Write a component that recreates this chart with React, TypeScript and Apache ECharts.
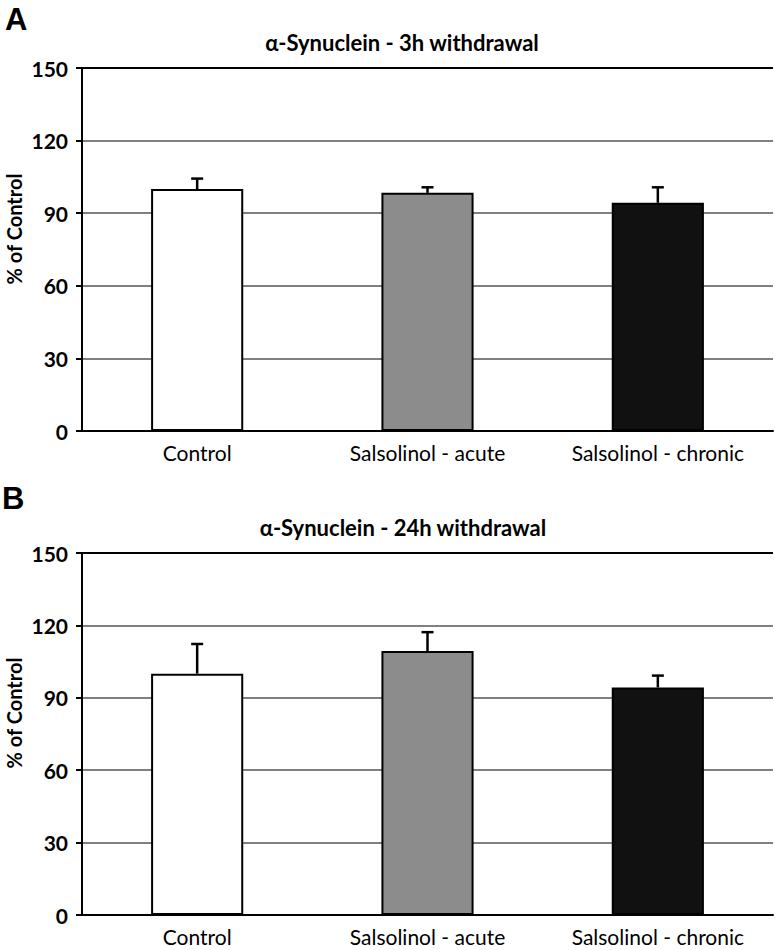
import React, { useEffect, useRef } from "react";
import * as echarts from "echarts";

const categories = ["Control", "Salsolinol - acute", "Salsolinol - chronic"];
const yTicks = [0, 30, 60, 90, 120, 150];
const meansA = [100, 98.4, 94.3];
const errsA = [4.3, 2.3, 6.4];
const meansB = [100, 109.4, 94.3];
const errsB = [12.3, 7.8, 4.9];
const barColors = ["#ffffff", "#8c8c8c", "#111111"];
const titleA = "α-Synuclein - 3h withdrawal";
const titleB = "α-Synuclein - 24h withdrawal";
const yName = "% of Control";

const FONT = "Lato, 'Open Sans', sans-serif";

function errSeries(idx: number, means: number[], errs: number[]) {
  return {
    type: "custom",
    xAxisIndex: idx,
    yAxisIndex: idx,
    z: 5,
    data: means.map((m, i) => [i, m, m + errs[i]]),
    renderItem: (params: any, api: any) => {
      const base = api.coord([api.value(0), api.value(1)]);
      const top = api.coord([api.value(0), api.value(2)]);
      const st = { stroke: "#000", lineWidth: 2.5 };
      return {
        type: "group",
        children: [
          { type: "line", shape: { x1: base[0], y1: base[1], x2: top[0], y2: top[1] }, style: st },
          { type: "line", shape: { x1: top[0] - 6, y1: top[1], x2: top[0] + 6, y2: top[1] }, style: st },
        ],
      };
    },
  };
}

function barSeries(idx: number, means: number[]) {
  return {
    type: "bar",
    xAxisIndex: idx,
    yAxisIndex: idx,
    barWidth: "40%",
    z: 3,
    data: means.map((m, i) => ({
      value: m,
      itemStyle: { color: barColors[i], borderColor: "#000", borderWidth: 2 },
    })),
  };
}

function xAxis(idx: number) {
  return {
    type: "category",
    gridIndex: idx,
    data: categories,
    axisTick: { show: false },
    axisLine: { show: true, lineStyle: { color: "#000", width: 2 } },
    axisLabel: { color: "#000", fontSize: 21, fontFamily: FONT, margin: 11 },
    z: 10,
  };
}

function yAxis(idx: number) {
  return {
    type: "value",
    gridIndex: idx,
    min: yTicks[0],
    max: yTicks[yTicks.length - 1],
    interval: 30,
    axisLine: { show: true, lineStyle: { color: "#000", width: 2 } },
    axisTick: { show: true, length: 6, lineStyle: { color: "#000", width: 2 } },
    axisLabel: { color: "#000", fontSize: 21, fontWeight: "bold", fontFamily: FONT, margin: 14 },
    splitLine: {
      show: true,
      lineStyle: {
        color: yTicks.map((t, i) => (i === yTicks.length - 1 ? "#000" : "#808080")),
        width: 2,
      },
    },
  };
}

export default function App() {
  const ref = useRef<HTMLDivElement>(null);
  useEffect(() => {
    if (!ref.current) return;
    const chart = echarts.init(ref.current, undefined, { renderer: "svg" });
    chart.setOption({
      animation: false,
      backgroundColor: "#fff",
      grid: [
        { left: 82, top: 68, width: 691, height: 363 },
        { left: 82, top: 553, width: 691, height: 362 },
      ],
      xAxis: [xAxis(0), xAxis(1)],
      yAxis: [yAxis(0), yAxis(1)],
      series: [barSeries(0, meansA), errSeries(0, meansA, errsA), barSeries(1, meansB), errSeries(1, meansB, errsB)],
      graphic: [
        { type: "text", left: 5, top: 4, style: { text: "A", font: "bold 31px 'Liberation Sans', Arial, sans-serif", fill: "#000" } },
        { type: "text", left: 2, top: 483, style: { text: "B", font: "bold 31px 'Liberation Sans', Arial, sans-serif", fill: "#000" } },
        { type: "text", x: 402, y: 42, style: { text: titleA, font: `bold 22px ${FONT}`, fill: "#000", textAlign: "center", textVerticalAlign: "middle" } },
        { type: "text", x: 403, y: 527, style: { text: titleB, font: `bold 22px ${FONT}`, fill: "#000", textAlign: "center", textVerticalAlign: "middle" } },
        { type: "text", x: 14, y: 229, rotation: Math.PI / 2, style: { text: yName, font: `bold 20px ${FONT}`, fill: "#000", textAlign: "center", textVerticalAlign: "middle" } },
        { type: "text", x: 14, y: 713, rotation: Math.PI / 2, style: { text: yName, font: `bold 20px ${FONT}`, fill: "#000", textAlign: "center", textVerticalAlign: "middle" } },
      ],
    });
    return () => chart.dispose();
  }, []);
  return <div ref={ref} style={{ position: "absolute", left: 0, top: 0, width: 775, height: 950 }} />;
}
